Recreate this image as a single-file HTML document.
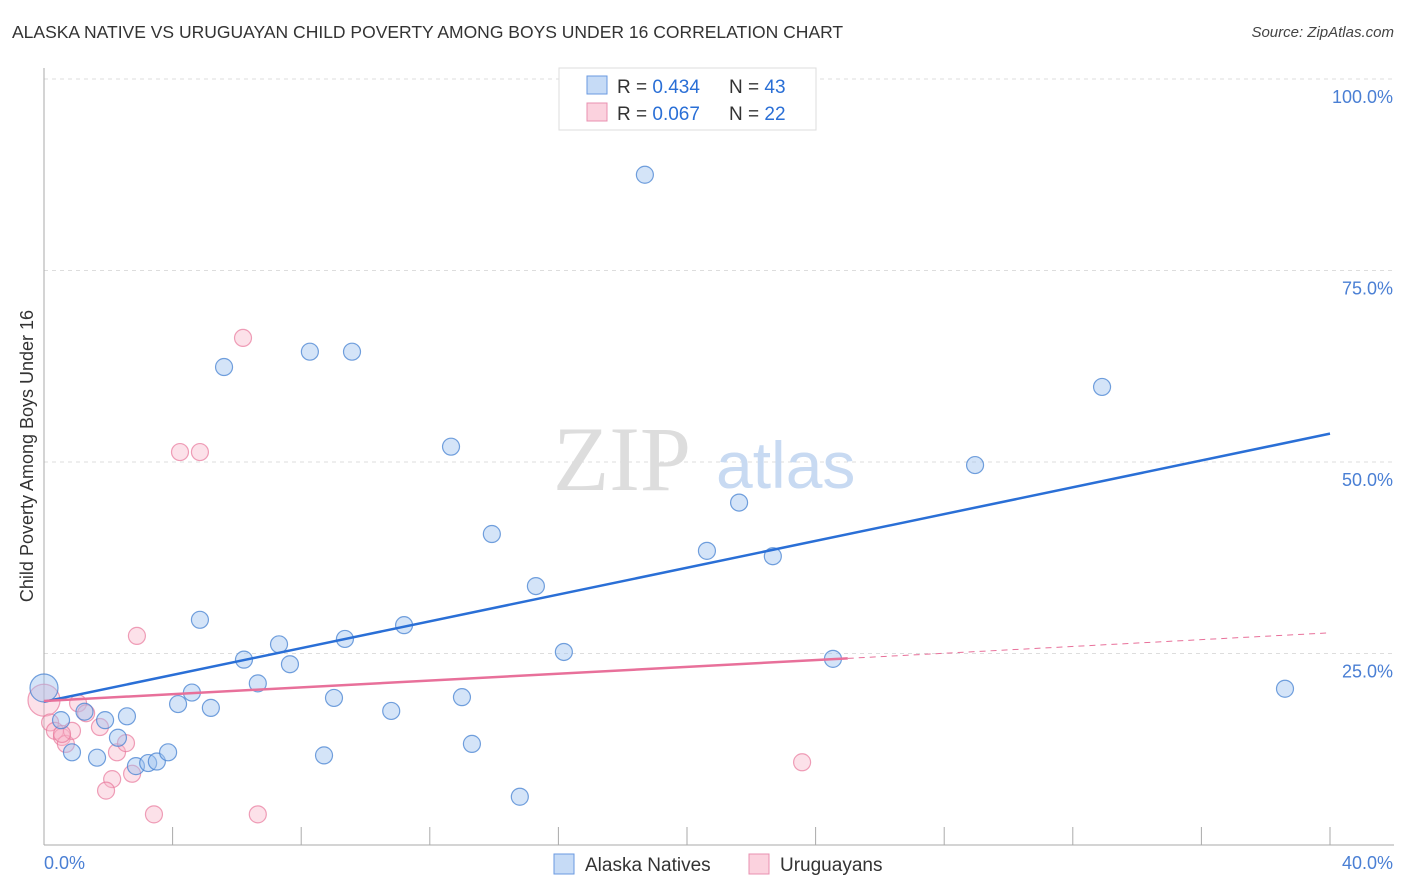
<!DOCTYPE html>
<html><head><meta charset="utf-8"><style>
body{margin:0;background:#fff;font-family:"Liberation Sans",sans-serif;}
#wrap{position:relative;width:1406px;height:892px;}
.title{position:absolute;left:12px;top:22px;font-size:17.5px;color:#333;}
.src{position:absolute;right:12px;top:24px;font-size:15px;color:#444;font-style:italic;}
</style></head><body>
<div id="wrap">
<div class="title">ALASKA NATIVE VS URUGUAYAN CHILD POVERTY AMONG BOYS UNDER 16 CORRELATION CHART</div>
<div class="src">Source: ZipAtlas.com</div>
<svg id="svg" width="1406" height="892" style="position:absolute;left:0;top:0"></svg>
</div>
<script>
const yTicks=[25,50,75,100];
const yTickLabels=["25.0%","50.0%","75.0%","100.0%"];
const blueX=[0,0.53,0.87,1.26,1.65,1.9,2.3,2.58,2.86,3.24,3.51,3.86,4.17,4.6,4.85,5.19,5.6,6.22,6.65,7.31,7.65,8.27,8.71,9.02,9.36,9.58,10.8,11.2,12.66,13,13.31,13.93,14.8,15.3,16.17,18.69,20.62,21.62,22.67,24.54,28.96,32.91,38.6];
const blueY=[20.5,16.3,12.1,17.4,11.4,16.3,14,16.8,10.3,10.7,10.9,12.1,18.4,19.9,29.4,17.9,62.4,24.2,21.1,26.2,23.6,64.4,11.7,19.2,26.9,64.4,17.5,28.7,52,19.3,13.2,40.6,6.3,33.8,25.2,87.5,38.4,44.7,37.7,24.3,49.6,59.8,20.4];
const pinkX=[0,0.19,0.34,0.56,0.68,0.87,1.06,1.31,1.74,2.12,1.93,2.27,2.55,2.74,2.89,3.42,4.23,4.85,6.19,6.65,23.58,0.56];
const pinkY=[18.9,16,14.9,14.1,13.2,14.9,18.5,17.2,15.4,8.6,7.1,12.1,13.3,9.3,27.3,4,51.3,51.3,66.2,4,10.8,14.5];
const blueTrend=[18.7,53.7];
const pinkTrend=[18.8,27.7];
const X=v=>44+v*32.15, Y=v=>845-v*7.66;
const svg=document.getElementById('svg');const NS='http://www.w3.org/2000/svg';
function mk(t,a,p){const e=document.createElementNS(NS,t);for(const k in a)e.setAttribute(k,a[k]);(p||svg).appendChild(e);return e;}
let e;
yTicks.forEach((t,i)=>{
e=mk('line',{x1:44,x2:1394,y1:Y(t),y2:Y(t),stroke:'#ddd','stroke-dasharray':'4,4'});


e=mk('text',{x:1393,y:Y(t)+24,'text-anchor':'end','font-size':18,fill:'#4a7fd4'});e.textContent=yTickLabels[i];


});
e=mk('line',{x1:44,x2:1394,y1:79,y2:79,stroke:'#ddd','stroke-dasharray':'4,4'});
e=mk('line',{x1:44,x2:44,y1:68,y2:845,stroke:'#aaa'});


e=mk('line',{x1:44,x2:1394,y1:845,y2:845,stroke:'#aaa'});


for(let i=1;i<=10;i++){e=mk('line',{x1:44+i*128.6,x2:44+i*128.6,y1:827,y2:845,stroke:'#aaa'});}
e=mk('text',{x:44,y:869,'font-size':18,fill:'#4a7fd4'});e.textContent='0.0%';


e=mk('text',{x:1393,y:869,'text-anchor':'end','font-size':18,fill:'#4a7fd4'});e.textContent='40.0%';


e=mk('text',{x:33,y:456,'text-anchor':'middle','font-size':18,fill:'#333',transform:'rotate(-90 33 456)'});e.textContent='Child Poverty Among Boys Under 16';


e=mk('text',{x:553,y:490,'font-size':92,fill:'#ddd','font-family':'Liberation Serif'});e.textContent='ZIP';


e=mk('text',{x:716,y:488,'font-size':66,fill:'#c8daf2'});e.textContent='atlas';


pinkX.forEach((x,i)=>{e=mk('circle',{cx:X(x),cy:Y(pinkY[i]),r:i==0?16:8.5,fill:'rgba(248,180,200,0.4)',stroke:'rgba(232,120,155,0.7)','stroke-width':1.2});

});
blueX.forEach((x,i)=>{e=mk('circle',{cx:X(x),cy:Y(blueY[i]),r:i==0?14:8.5,fill:'rgba(160,195,240,0.45)',stroke:'rgba(70,130,210,0.75)','stroke-width':1.2});

});
e=mk('line',{x1:X(0),y1:Y(blueTrend[0]),x2:X(40),y2:Y(blueTrend[1]),stroke:'#2a6fd6','stroke-width':2.5});


const pm=pinkTrend[0]+(pinkTrend[1]-pinkTrend[0])*25/40;
e=mk('line',{x1:X(0),y1:Y(pinkTrend[0]),x2:X(25),y2:Y(pm),stroke:'#e8709a','stroke-width':2.5});


e=mk('line',{x1:X(25),y1:Y(pm),x2:X(40),y2:Y(pinkTrend[1]),stroke:'#e8709a','stroke-width':1,'stroke-dasharray':'6,5'});


// legend
const lg=mk('g',{});
mk('rect',{x:559,y:68,width:257,height:62,fill:'#fff',stroke:'#ddd'},lg);
mk('rect',{x:587,y:76,width:20,height:18,fill:'rgba(160,195,240,0.6)',stroke:'#6a9ae0'},lg);
mk('rect',{x:587,y:103,width:20,height:18,fill:'rgba(248,180,200,0.6)',stroke:'#e890b0'},lg);
[['0.434','43',93],['0.067','22',120]].forEach(r=>{
let t=mk('text',{x:617,y:r[2],'font-size':19,fill:'#333'},lg);t.innerHTML='R = <tspan fill="#2a6fd6">'+r[0]+'</tspan>';
t=mk('text',{x:729,y:r[2],'font-size':19,fill:'#333'},lg);t.innerHTML='N = <tspan fill="#2a6fd6">'+r[1]+'</tspan>';});
// bottom legend
e=mk('rect',{x:554,y:854,width:20,height:20,fill:'rgba(160,195,240,0.6)',stroke:'#6a9ae0'});


e=mk('text',{x:585,y:871,'font-size':19,fill:'#333'});e.textContent='Alaska Natives';


e=mk('rect',{x:749,y:854,width:20,height:20,fill:'rgba(248,180,200,0.6)',stroke:'#e890b0'});


e=mk('text',{x:780,y:871,'font-size':19,fill:'#333'});e.textContent='Uruguayans';


</script>
</body></html>
